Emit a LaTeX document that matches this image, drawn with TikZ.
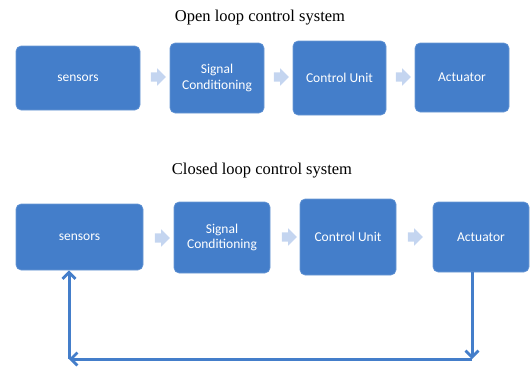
\documentclass[tikz,border=0pt]{standalone}
\usepackage{fontspec}
\setmainfont{Liberation Serif}
\newfontfamily\boxfont{Carlito}
\usetikzlibrary{arrows.meta,shapes.arrows}
\definecolor{boxblue}{RGB}{68,126,202}
\definecolor{lightarr}{RGB}{196,213,240}
\tikzset{
  x=1pt,y=-1pt,
  blk/.style={draw=boxblue!80!white,line width=0.6pt,fill=boxblue,rounded corners=5pt,text=white,
    font=\boxfont\fontsize{13.5}{15.5}\selectfont,align=center,inner sep=0pt},
  ttl/.style={font=\fontsize{16.5}{19}\selectfont,inner sep=0pt},
  flow/.style={single arrow,fill=lightarr,draw=none,inner xsep=0pt,inner ysep=4.5pt,
    single arrow head extend=4pt,minimum height=15pt,text height=0pt,text depth=0pt},
  fb/.style={draw=boxblue,line width=3pt,-{Straight Barb[length=6.5pt,width=13pt,line width=2.8pt]}},
}
\newcommand{\blkat}[6]{\node[blk,minimum width=#3-#1,minimum height=#4-#2] (#5) at ({(#1+#3)/2},{(#2+#4)/2}) {#6};}
\begin{document}
\begin{tikzpicture}
\useasboundingbox (0,0) rectangle (531,367);
\node[ttl] (t1) at (260,18) {Open loop control system};
\blkat{16}{46}{140}{110}{s1}{sensors}
\blkat{170}{43}{264}{113}{c1}{Signal\\Conditioning}
\blkat{293}{41}{386}{115}{u1}{Control Unit}
\blkat{415}{43}{509}{112}{a1}{Actuator}
\node[flow] (f1) at (156,77) {};
\node[flow] (f2) at (279,77) {};
\node[flow] (f3) at (401,77) {};

\node[ttl] (t2) at (262,171) {Closed loop control system};
\blkat{16}{204}{143}{270}{s2}{sensors}
\blkat{174}{202}{270}{273}{c2}{Signal\\Conditioning}
\blkat{300}{199}{396}{275}{u2}{Control Unit}
\blkat{433}{202}{529}{272}{a2}{Actuator}
\node[flow] (g1) at (160,238) {};
\node[flow] (g2) at (287,237) {};
\node[flow] (g3) at (413,237) {};

\coordinate (br) at (472,359);
\coordinate (bl) at (69,359);
\draw[fb] (a2.south -| br) -- (br);
\draw[fb] (br) -- (bl);
\draw[fb] (bl) -- (bl |- s2.south);
\end{tikzpicture}
\end{document}
